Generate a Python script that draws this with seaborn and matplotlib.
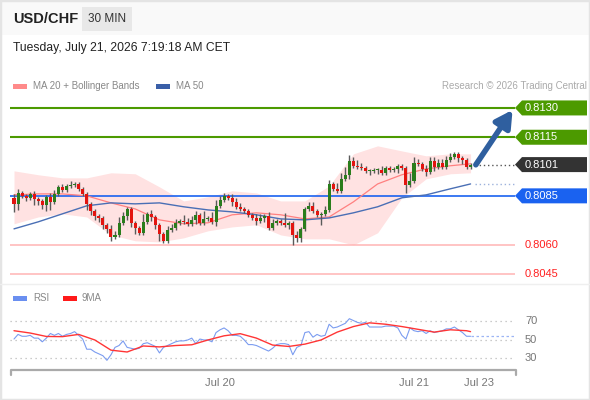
import matplotlib
matplotlib.use("Agg")
import matplotlib.pyplot as plt
import matplotlib.transforms as mtransforms
from matplotlib.patches import Polygon, Rectangle
from matplotlib.lines import Line2D
import numpy as np
import seaborn as sns

sns.set_style("white")
plt.rcParams["font.family"] = ["Liberation Sans", "DejaVu Sans"]

# ---- data (30 min candles, USD/CHF) ----
first_open = 0.80840
closes = [
    0.80809, 0.80865, 0.80850, 0.80840, 0.80860, 0.80835, 0.80824, 0.80804, 0.80845, 0.80819,
    0.80860, 0.80896, 0.80881, 0.80901, 0.80906, 0.80911, 0.80886, 0.80860, 0.80809, 0.80773,
    0.80748, 0.80737, 0.80702, 0.80681, 0.80640, 0.80650, 0.80712, 0.80748, 0.80783, 0.80712,
    0.80686, 0.80661, 0.80717, 0.80758, 0.80742, 0.80702, 0.80655, 0.80620, 0.80676, 0.80686,
    0.80712, 0.80722, 0.80717, 0.80707, 0.80727, 0.80753, 0.80712, 0.80732, 0.80737, 0.80717,
    0.80799, 0.80830, 0.80850, 0.80840, 0.80819, 0.80794, 0.80783, 0.80773, 0.80753, 0.80737,
    0.80722, 0.80737, 0.80748, 0.80686, 0.80712, 0.80722, 0.80712, 0.80702, 0.80712, 0.80650,
    0.80635, 0.80681, 0.80783, 0.80799, 0.80773, 0.80753, 0.80758, 0.80778, 0.80911, 0.80886,
    0.80876, 0.80937, 0.80958, 0.81029, 0.81004, 0.80998, 0.80993, 0.80978, 0.80978, 0.80983,
    0.80983, 0.80968, 0.80993, 0.80983, 0.80988, 0.81004, 0.80993, 0.80906, 0.80927, 0.81019,
    0.81014, 0.80988, 0.80973, 0.81029, 0.80998, 0.81019, 0.80998, 0.81034, 0.81050, 0.81065,
    0.81045, 0.81034, 0.80998, 0.81009,
]
# wick lengths beyond the body, in pips
upper_wick = [
    2, 2, 1, 1, 1, 1.5, 1, 1, 1, 2,
    2, 1, 1.5, 1, 2, 1, 1, 1, 1, 1,
    1, 1, 1, 1, 2, 2, 3, 2, 1, 1,
    1, 1, 4, 1, 2, 1, 1, 1, 2, 2,
    2, 1, 3, 2, 2, 2, 1, 4, 1, 3,
    3, 2, 1.5, 1, 2, 2, 2, 1, 1, 1,
    2, 2, 1, 2, 2, 1, 1, 5, 1, 1,
    2, 1, 1, 2, 2, 1, 1, 2, 2, 1,
    3, 3, 4, 3, 2, 3, 2, 1, 1, 1,
    1, 2, 1, 1, 1, 1, 1, 1, 4, 3,
    2, 1, 2, 2, 2, 2, 2, 2, 2, 1,
    1, 1, 1, 1,
]
lower_wick = [
    4, 3, 1, 1.5, 1, 3, 2, 2, 3, 4,
    1, 1, 1, 1, 1, 1, 1, 1, 3, 2,
    2, 2, 2, 2, 2, 1, 1, 1, 2, 2,
    3, 1, 1, 1, 2, 2, 3.5, 1, 1, 1,
    1, 1, 1, 1, 1, 2, 1, 1, 1, 1,
    2, 1, 1, 1, 2, 1, 1, 1, 1, 1,
    2, 1, 2, 1, 1, 1, 1, 1, 2, 5,
    2, 2, 1, 1, 1, 1, 5, 1, 1, 1,
    1, 1, 1, 2, 1, 1, 1, 1, 2, 1,
    2, 1, 1, 1, 1, 2, 1, 4, 1, 1,
    1, 1, 2, 1, 2, 1, 1, 1, 1, 1,
    2, 2, 1, 1,
]

# moving averages / bands, read at every 6th candle
ma_idx = [0, 6, 12, 18, 24, 30, 36, 42, 48, 54, 60, 66, 72, 78, 84, 90, 96, 102, 108, 113]
ma20 = [0.80855, 0.80860, 0.80860, 0.80850, 0.80814, 0.80783, 0.80727, 0.80707, 0.80712, 0.80753,
        0.80763, 0.80753, 0.80732, 0.80742, 0.80819, 0.80911, 0.80958, 0.80988, 0.81004, 0.81014]
ma50 = [0.80681, 0.80717, 0.80758, 0.80799, 0.80814, 0.80809, 0.80814, 0.80794, 0.80778, 0.80768,
        0.80753, 0.80732, 0.80727, 0.80737, 0.80763, 0.80794, 0.80840, 0.80855, 0.80886, 0.80911]
bb_upper = [0.80978, 0.80958, 0.80942, 0.80942, 0.80968, 0.80963, 0.80896, 0.80824, 0.80845, 0.80876,
            0.80865, 0.80824, 0.80824, 0.80901, 0.81065, 0.81106, 0.81080, 0.81055, 0.81065, 0.81065]
bb_lower = [0.80707, 0.80742, 0.80758, 0.80742, 0.80650, 0.80620, 0.80614, 0.80635, 0.80671, 0.80691,
            0.80702, 0.80650, 0.80630, 0.80630, 0.80599, 0.80661, 0.80840, 0.80937, 0.80963, 0.80968]

rsi = [
    51, 56, 54, 54, 55, 52, 52, 48, 52, 57,
    55, 57, 54, 56, 57, 59, 55, 51, 40, 40,
    37, 35, 33, 28, 34, 42, 44, 49, 42, 41,
    40, 41, 46, 47, 45, 43, 36, 42, 44, 46,
    48, 49, 49, 50, 52, 46, 51, 50, 50, 48,
    58, 61, 63, 60, 55, 55, 54, 50, 45, 45,
    44, 42, 40, 38, 41, 45, 46, 46, 45, 34,
    42, 44, 58, 59, 53, 56, 54, 55, 67, 63,
    64, 66, 68, 73, 71, 69, 68, 69, 64, 64,
    64, 64, 65, 65, 65, 63, 55, 51, 63, 60,
    59, 60, 57, 60, 58, 59, 60, 62, 62, 64,
    61, 58, 54, 54,
]
rsi_ma_idx = [0, 4, 8, 12, 16, 20, 24, 28, 32, 36, 40, 44, 48, 52, 56,
              60, 64, 68, 72, 76, 80, 84, 88, 92, 96, 100, 104, 108, 112, 113]
rsi_ma9 = [60, 57.5, 53.8, 53.6, 56, 50, 39, 37, 43.5, 42.5, 44, 44.8, 50, 54.5, 56.8,
           52, 44.5, 43, 45.5, 50, 58.5, 64.5, 68.5, 67, 64.5, 61.5, 58.5, 61, 60, 59]
rsi_levels = [70, 50, 30]

levels = [0.8130, 0.8115, 0.8101, 0.8085, 0.8060, 0.8045]
level_labels = ["0.8130", "0.8115", "0.8101", "0.8085", "0.8060", "0.8045"]
level_kinds = ["res", "res", "last", "ma", "sup", "sup"]
target = 0.8130

date_ticks = [51, 99, 115]
date_labels = ["Jul 20", "Jul 21", "Jul 23"]

# ---- figure ----
W, H = 590, 400
fig = plt.figure(figsize=(W / 100, H / 100), dpi=100)
fig.patch.set_facecolor("white")

def fx(px):
    return px / W

def fy(py):
    return 1 - py / H

GREEN = "#4c9a00"
BLUE = "#1a62f0"
DARK = "#333333"
RED_TXT = "#ff2020"

# header band and frame
fig.add_artist(Rectangle((0, fy(35)), 1, 35 / H, transform=fig.transFigure,
                         facecolor="#f9f9f9", edgecolor="none", zorder=0))
fig.add_artist(Rectangle((0, 0), 1, 1, transform=fig.transFigure, fill=False,
                         edgecolor="#e4e4e4", lw=2.5))
fig.add_artist(Line2D([0, 1], [fy(284), fy(284)], transform=fig.transFigure,
                      color="#efefef", lw=1))

fig.text(fx(13), fy(19), "USD/CHF", fontsize=10.5, fontweight="bold", color="#222",
         va="center", ha="left")
fig.add_artist(Rectangle((fx(82), fy(31)), fx(50), 24 / H, transform=fig.transFigure,
                         facecolor="#e8e8e8", edgecolor="none"))
fig.text(fx(107), fy(19), "30 MIN", fontsize=8.5, color="#333", va="center", ha="center")
fig.text(fx(13), fy(48), "Tuesday, July 21, 2026 7:19:18 AM CET", fontsize=8.7,
         color="#222", va="center", ha="left")

# legend row
fig.add_artist(Rectangle((fx(13), fy(89)), fx(14), 5 / H, transform=fig.transFigure,
                         facecolor="#ff8a8a", edgecolor="none"))
fig.text(fx(33), fy(86), "MA 20 + Bollinger Bands", fontsize=7, color="#888", va="center")
fig.add_artist(Rectangle((fx(156), fy(89)), fx(14), 5 / H, transform=fig.transFigure,
                         facecolor="#3a5fa8", edgecolor="none"))
fig.text(fx(176), fy(86), "MA 50", fontsize=7, color="#888", va="center")
fig.text(fx(587), fy(86), "Research \u00a9 2026 Trading Central", fontsize=7,
         color="#aaaaaa", va="center", ha="right")

# ---- price panel ----
ax = fig.add_axes([fx(10), fy(282), fx(505), 185 / H])
ax.set_xlim(-0.99, 124.0)
ax.set_ylim(0.80409, 0.81356)
ax.axis("off")

n = len(closes)
idx = np.arange(n)
opens = np.array([first_open] + closes[:-1])
cl = np.array(closes)
highs = np.maximum(opens, cl) + np.array(upper_wick) * 0.0001
lows = np.minimum(opens, cl) - np.array(lower_wick) * 0.0001

ax.fill_between(ma_idx, bb_lower, bb_upper, color="#ffe2e2", lw=0, zorder=0)

for lvl, kind in zip(levels, level_kinds):
    if kind == "res":
        ax.axhline(lvl, color=GREEN, lw=1.5, zorder=1)
    elif kind == "ma":
        ax.axhline(lvl, color=BLUE, lw=1.2, zorder=1)
    elif kind == "sup":
        ax.axhline(lvl, color="#ffb4b4", lw=1.1, zorder=1)
    else:
        ax.plot([n, 124], [lvl, lvl], color="#555", lw=1, ls=(0, (1, 2)), zorder=1)

sns.lineplot(x=ma_idx, y=ma20, ax=ax, color="#ff8080", lw=0.9, zorder=2)
sns.lineplot(x=ma_idx, y=ma50, ax=ax, color="#4a6fb5", lw=1.0, zorder=2)
ax.plot([n, 124], [ma50[-1], ma50[-1]], color="#9db2dc", lw=1, ls=(0, (1, 2)), zorder=2)

colors = np.where(cl >= opens, "#2a7d1c", "#e3140f")
ax.vlines(idx, lows, highs, color="#5a5a5a", lw=1.0, zorder=3)
body = np.maximum(np.abs(cl - opens), 0.00003)
ax.bar(idx, body, bottom=np.minimum(opens, cl), width=0.75, color=colors,
       edgecolor="none", zorder=4)

ax.annotate("", xy=(123.4, target - 0.0001), xytext=(114.3, closes[-1]),
            arrowprops=dict(arrowstyle="-|>,head_length=1.0,head_width=0.55",
                            color="#2f5f9f", lw=4, shrinkA=0, shrinkB=0),
            zorder=5)

# level tags on the right
inv = fig.transFigure.inverted()
for lvl, lab, kind in zip(levels, level_labels, level_kinds):
    yf = inv.transform(ax.transData.transform((0, lvl)))[1]
    if kind in ("res", "last", "ma"):
        col = {"res": GREEN, "last": DARK, "ma": BLUE}[kind]
        hh = 7.5 / H
        pts = [(fx(515), yf), (fx(522), yf + hh), (fx(587), yf + hh),
               (fx(587), yf - hh), (fx(522), yf - hh)]
        fig.add_artist(Polygon(pts, closed=True, transform=fig.transFigure,
                               facecolor=col, edgecolor="none"))
        fig.text(fx(525), yf, lab, fontsize=8, color="white", va="center", ha="left")
    else:
        fig.text(fx(525), yf, lab, fontsize=8, color=RED_TXT, va="center", ha="left")

# ---- RSI panel ----
rax = fig.add_axes([fx(10), fy(368), fx(505), 63 / H])
rax.set_xlim(-0.99, 124.0)
rax.set_ylim(19.7, 87.8)
rax.axis("off")
for v in rsi_levels:
    rax.axhline(v, color="#bbbbbb", lw=0.9, ls=(0, (1, 3)), zorder=0)
    yf = inv.transform(rax.transData.transform((0, v)))[1]
    fig.text(fx(525), yf, str(v), fontsize=8, color="#777", va="center", ha="left")

sns.lineplot(x=idx, y=rsi, ax=rax, color="#7b9cf0", lw=0.8, zorder=2)
sns.lineplot(x=rsi_ma_idx, y=rsi_ma9, ax=rax, color="#ff3535", lw=1.0, zorder=3)
rax.plot([n - 1, 124], [rsi[-1], rsi[-1]], color="#9bb4f5", lw=0.9, ls=(0, (2, 2)), zorder=1)

fig.add_artist(Rectangle((fx(13), fy(301)), fx(14), 5 / H, transform=fig.transFigure,
                         facecolor="#6a8ff0", edgecolor="none"))
fig.text(fx(33), fy(298), "RSI", fontsize=7, color="#888", va="center")
fig.add_artist(Rectangle((fx(63), fy(301)), fx(14), 5 / H, transform=fig.transFigure,
                         facecolor="#ff1a1a", edgecolor="none"))
fig.text(fx(82), fy(298), "9MA", fontsize=7, color="#888", va="center")

# time axis bracket
fig.add_artist(Line2D([fx(11), fx(11), fx(516), fx(516)],
                      [fy(375), fy(370), fy(370), fy(375)],
                      transform=fig.transFigure, color="#aaaaaa", lw=1.6))
tr = mtransforms.blended_transform_factory(rax.transData, fig.transFigure)
for t, lab in zip(date_ticks, date_labels):
    rax.text(t, fy(383), lab, transform=tr, fontsize=8, color="#777",
             ha="center", va="center", clip_on=False)

fig.savefig("out.png", dpi=100)
